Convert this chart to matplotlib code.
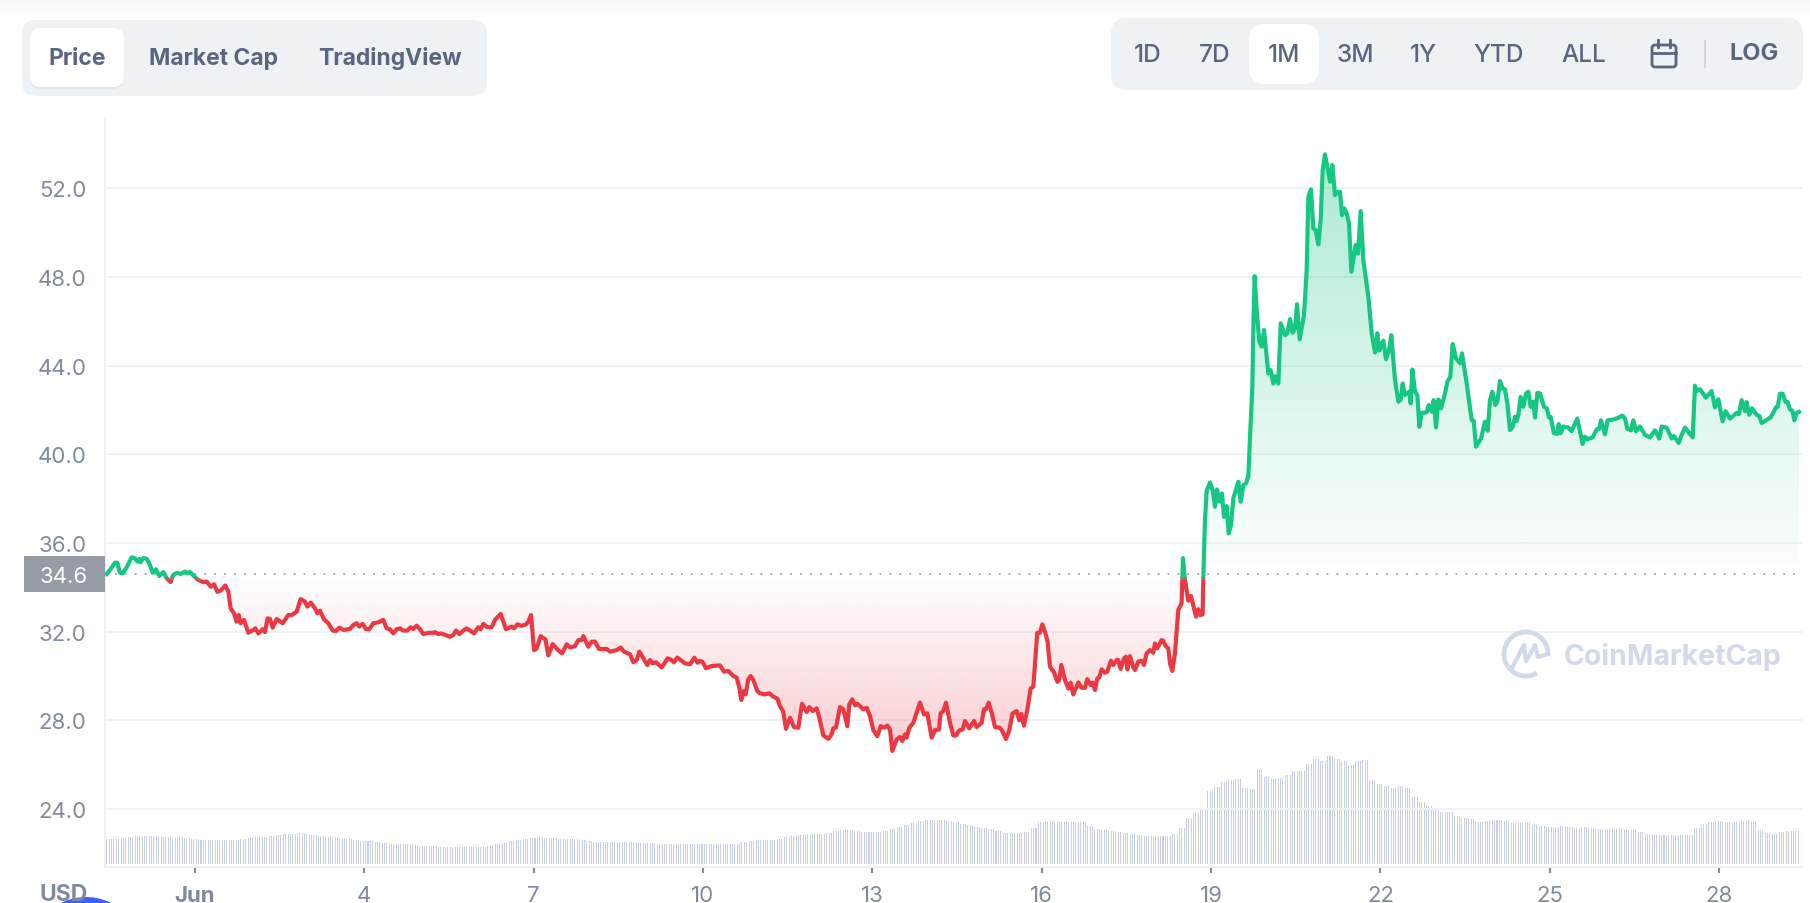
import numpy as np
import matplotlib
matplotlib.use("Agg")
import matplotlib.pyplot as plt
from matplotlib.patches import FancyBboxPatch, Rectangle, Circle, Arc

plt.rcParams['font.family'] = ['Inter', 'DejaVu Sans']

# price, x in days of June (Jun 1 = 1)
days = [
    -0.565,-0.506,-0.417,-0.376,-0.329,-0.281,-0.211,-0.122,-0.063,-0.022,0.014,0.037,0.085,0.144,0.191,0.250,0.309,0.368,0.439,0.498,
    0.569,0.616,0.687,0.746,0.823,0.864,0.911,0.982,1.041,1.148,1.207,1.278,1.337,1.396,1.455,1.537,1.591,1.632,1.691,1.738,
    1.774,1.809,1.868,1.945,2.033,2.069,2.122,2.199,2.240,2.287,2.329,2.376,2.447,2.553,2.653,2.712,2.801,2.872,2.949,2.990,
    3.049,3.126,3.167,3.214,3.285,3.362,3.439,3.498,3.557,3.628,3.746,3.805,3.864,3.911,3.970,4.029,4.088,4.159,4.248,4.336,
    4.395,4.454,4.514,4.573,
    4.632,4.691,4.762,4.821,4.868,4.927,4.974,5.045,5.134,5.223,5.252,5.311,5.352,5.429,5.518,5.577,5.624,5.683,5.754,5.813,
    5.872,5.943,6.020,6.061,6.108,6.179,6.256,6.315,6.415,6.510,6.610,6.652,6.711,6.787,6.864,6.905,6.953,7.006,7.053,7.124,
    7.207,7.260,7.336,7.419,7.502,7.585,7.644,7.732,7.791,7.850,7.880,7.968,8.027,8.086,8.157,8.293,8.352,8.470,8.541,8.600,
    8.706,8.766,8.825,8.872,8.943,9.013,9.061,9.108,9.167,9.268,9.374,9.445,9.486,9.545,9.604,9.681,9.770,9.846,9.905,
    9.946,9.993,10.052,10.153,10.300,10.371,10.448,10.537,10.596,10.643,10.678,10.714,10.755,10.802,10.844,10.891,10.962,11.009,11.097,11.174,
    11.245,11.316,11.363,11.422,11.469,11.540,11.611,11.688,11.753,11.836,11.883,11.942,12.013,12.060,12.131,12.219,12.278,12.308,12.355,12.426,
    12.485,12.556,12.591,12.645,12.692,12.733,12.839,12.899,12.958,13.017,13.087,13.147,13.206,13.265,13.312,13.353,13.430,13.489,13.530,13.578,
    13.607,13.654,13.725,13.784,13.843,13.914,13.973,14.050,14.109,14.180,14.209,14.257,14.304,14.375,14.434,14.481,14.540,14.599,14.640,14.717,
    14.800,14.847,14.936,14.977,15.013,15.060,15.113,15.172,
    15.260,15.307,15.366,15.425,15.484,15.555,15.602,15.638,15.685,15.744,15.803,15.851,15.921,15.969,16.010,16.057,16.104,16.146,16.217,16.276,
    16.311,16.347,16.411,16.471,16.512,16.559,16.648,16.707,16.766,16.807,16.866,16.902,16.943,16.984,17.020,17.061,17.120,17.161,17.226,17.268,
    17.327,17.356,17.398,17.457,17.492,17.516,17.563,17.622,17.652,17.711,17.770,17.811,17.858,17.917,17.976,18.006,18.047,18.124,18.153,18.195,
    18.242,18.272,18.313,18.360,18.419,18.478,18.502,18.537,18.596,18.644,18.732,18.773,18.803,18.850,
    18.863,18.892,18.922,18.981,19.028,19.069,19.105,19.146,19.193,19.229,19.276,19.312,19.353,19.394,19.483,19.524,19.571,19.619,19.660,19.690,
    19.731,19.749,19.772,19.808,19.855,19.896,19.938,20.014,20.056,20.103,20.138,20.191,20.233,20.309,20.351,20.398,20.445,20.487,20.522,20.569,
    20.646,20.693,20.723,20.770,20.811,20.853,20.900,20.941,20.977,21.018,21.059,21.107,21.148,21.195,21.242,21.284,21.319,21.361,21.402,21.443,
    21.485,21.561,21.603,21.650,21.697,21.786,21.845,21.904,21.945,21.981,22.052,22.099,22.152,22.193,22.258,22.317,22.359,22.394,22.435,22.512,
    22.536,22.565,22.613,22.654,22.689,22.731,22.819,22.855,22.908,22.943,22.985,23.026,23.073,23.144,23.185,23.238,23.280,23.339,23.410,23.445,
    23.528,23.616,23.652,23.693,23.782,23.852,23.900,23.941,23.982,24.036,24.071,24.118,24.165,24.207,24.248,24.295,24.343,24.384,24.414,24.443,
    24.484,24.531,24.579,24.620,24.661,24.709,24.738,24.780,24.827,24.898,24.945,24.986,
    25.015,25.074,25.133,25.157,25.192,25.239,25.328,25.387,25.487,25.582,25.623,25.665,25.759,25.830,25.877,25.907,25.978,26.025,26.113,26.214,
    26.285,26.332,26.373,26.438,26.480,26.527,26.598,26.686,26.775,26.863,26.940,26.981,27.070,27.159,27.200,27.283,27.336,27.395,27.531,27.572,
    27.601,27.661,27.767,27.867,27.926,27.985,28.062,28.115,28.192,28.310,28.351,28.399,28.458,28.487,28.534,28.582,28.664,28.712,28.753,28.913,
    29.007,29.037,29.078,29.125,29.178,29.214,29.255,29.296,29.332,29.373,29.414,
]
prices = [
    34.60,34.78,35.11,35.11,34.66,34.63,34.90,35.35,35.31,35.16,35.28,35.13,35.32,35.29,35.08,34.66,34.81,34.51,34.69,34.41,
    34.24,34.56,34.66,34.60,34.71,34.63,34.69,34.51,34.36,34.23,34.26,34.03,34.14,33.80,33.85,34.08,33.80,33.05,32.83,32.45,
    32.75,32.38,32.53,31.95,32.08,32.15,31.92,32.11,31.98,32.60,32.57,32.18,32.57,32.38,32.75,32.75,32.90,33.47,33.35,33.13,
    33.31,33.05,32.83,32.95,32.56,32.38,32.05,32.03,32.18,32.08,32.12,32.30,32.38,32.23,32.35,32.11,32.11,32.38,32.42,32.53,
    32.15,32.11,31.92,32.11,
    32.15,32.05,32.05,32.20,32.12,32.27,32.15,31.89,31.95,31.95,31.98,31.89,31.92,31.86,31.77,31.85,32.05,31.89,32.05,32.15,
    32.05,31.92,32.20,32.11,32.35,32.20,32.20,32.53,32.80,32.11,32.23,32.15,32.33,32.26,32.33,32.45,32.75,31.17,31.25,31.80,
    31.65,30.93,31.44,31.20,31.02,31.43,31.29,31.35,31.62,31.62,31.80,31.32,31.55,31.55,31.22,31.22,31.10,31.17,31.28,31.10,
    30.98,30.62,30.72,31.10,30.80,30.50,30.72,30.57,30.62,30.39,30.80,30.72,30.62,30.83,30.72,30.57,30.53,30.83,30.60,
    30.68,30.63,30.35,30.45,30.48,30.20,30.23,30.00,29.93,29.47,28.92,29.32,29.17,29.85,30.00,29.82,29.32,29.22,29.17,29.22,
    29.07,28.98,28.65,28.39,27.62,28.12,27.70,27.67,28.75,28.38,28.60,28.42,28.54,28.12,27.32,27.17,27.37,27.64,27.67,28.60,
    28.50,27.74,28.72,28.95,28.68,28.75,28.50,28.57,28.20,27.56,27.29,27.74,27.67,27.77,27.59,26.62,27.14,27.25,27.07,27.37,
    27.22,27.67,27.89,28.35,28.80,28.27,28.32,27.22,27.56,27.59,28.32,28.42,28.80,27.89,27.32,27.32,27.55,27.59,27.97,27.64,
    27.97,27.70,27.89,28.50,28.50,28.80,28.35,27.70,
    27.67,27.49,27.16,27.56,28.32,28.42,28.01,28.29,27.76,28.47,29.44,29.52,31.95,31.95,32.33,32.00,31.55,30.42,30.17,29.74,
    29.82,30.50,29.82,29.44,29.70,29.17,29.71,29.47,29.47,29.86,29.59,29.70,29.37,29.89,29.94,30.30,30.15,30.20,30.69,30.50,
    30.72,30.72,30.32,30.80,30.87,30.30,30.90,30.39,30.27,30.65,30.69,30.50,31.02,31.17,31.05,31.47,31.25,31.62,31.59,31.35,
    31.25,30.57,30.23,31.02,32.98,33.28,35.32,34.33,33.40,33.61,32.68,33.01,32.75,32.78,
    34.48,37.03,38.35,38.73,38.38,37.63,38.41,37.86,38.23,37.18,37.66,36.43,36.81,38.01,38.76,37.86,38.61,38.69,39.02,40.79,
    43.04,45.75,48.03,46.50,45.07,44.85,45.60,43.64,43.79,43.19,43.52,43.19,45.90,45.37,45.45,46.09,45.48,45.67,46.76,45.18,
    46.27,48.30,51.61,51.94,50.18,50.11,49.46,50.56,52.81,53.52,52.96,52.29,53.04,51.68,51.83,51.83,50.78,51.08,50.86,50.41,
    48.23,49.43,49.05,50.96,48.75,47.10,45.45,44.59,45.45,44.67,45.12,44.28,44.70,45.37,43.34,42.37,42.47,43.19,42.67,42.82,
    42.29,43.82,42.82,42.67,41.24,41.87,41.89,42.22,41.92,42.44,41.21,42.47,42.07,42.74,43.27,43.49,44.97,44.32,44.10,44.55,
    43.19,41.54,41.51,40.34,40.71,41.47,41.06,42.44,42.82,42.22,42.37,43.30,42.97,42.92,42.29,41.09,41.24,41.69,41.50,41.77,
    42.59,42.14,42.74,42.82,42.14,42.37,41.66,42.77,42.74,42.14,42.07,41.66,
    41.69,40.95,40.92,41.36,40.95,41.25,41.20,41.04,41.61,40.46,40.79,40.67,40.76,41.12,41.15,41.53,40.90,41.53,41.56,41.64,
    41.74,41.61,41.15,41.08,41.53,41.04,41.25,40.87,40.76,41.08,40.71,41.25,41.20,40.71,40.82,40.51,40.87,41.20,40.76,43.09,
    42.85,42.93,42.55,42.85,42.11,42.48,41.48,41.94,41.61,41.86,41.81,42.44,41.94,42.35,41.78,42.07,41.78,41.73,41.41,41.66,
    42.11,42.14,42.73,42.73,42.35,42.35,42.02,41.97,41.53,41.86,41.91,
]
base_price = 34.6

# relative volume, one level per 3 hours (each level covers 3 hourly bars)
volume_levels = [
    25,25,26,27,28,28,28,28, 27,27,27,26,25,24,24,24, 24,24,24,25,26,27,27,28, 29,30,30,31,30,29,28,27,
    27,26,25,24,23,23,22,21, 20,20,20,19,18,18,18,17, 17,17,17,17,17,17,18,20, 21,23,24,25,26,27,26,26,
    25,25,25,24,23,22,22,22, 22,22,22,21,21,21,20,20, 20,20,20,20,20,20,20,20, 20,20,22,23,24,24,24,25,
    27,28,29,30,30,30,31,33, 34,34,33,32,32,32,33,35, 37,39,41,43,44,44,44,43, 42,40,39,37,36,35,33,31,
    31,31,32,36,42,43,43,42, 42,42,42,38,35,34,33,32, 31,30,29,28,28,28,28,30, 36,46,51,55,73,77,82,84,
    85,76,75,95,87,85,86,89, 93,93,100,105,103,108,105,103, 99,103,104,84,80,78,76,78, 76,67,62,58,54,52,52,48,
    46,45,42,43,44,44,43,41, 41,42,39,38,37,37,38,37, 36,37,36,35,35,35,35,34, 34,32,30,29,29,29,29,29,
    29,36,40,42,43,42,42,43, 43,42,34,31,30,32,33,33,
]
first_bar_day = -0.56

y_ticks = [24, 28, 32, 36, 40, 44, 48, 52]
x_ticks = [1, 4, 7, 10, 13, 16, 19, 22, 25, 28]
x_labels = ['Jun', '4', '7', '10', '13', '16', '19', '22', '25', '28']

left_tabs = ['Price', 'Market Cap', 'TradingView']
range_tabs = ['1D', '7D', '1M', '3M', '1Y', 'YTD', 'ALL']

GREEN = '#16c784'
RED = '#ea3943'
GRID = '#eff2f5'
TICK = '#808a9d'
DARK = '#58667e'
W, H = 1810, 904

days = np.array(days)
prices = np.array(prices)
volume = np.repeat(volume_levels, 3)
bar_days = first_bar_day + np.arange(len(volume)) / 24

fig = plt.figure(figsize=(W / 100, H / 100), dpi=100, facecolor='white')
ax = fig.add_axes([105 / W, (H - 868) / H, (1802 - 105) / W, (868 - 119) / H])
vol_ax = ax.twinx()

# volume under everything
vol_ax.bar(bar_days, volume, width=0.018, color='#c6d0e2', linewidth=0)
vol_ax.set_ylim(-3, 746)
vol_ax.axis('off')
ax.set_zorder(vol_ax.get_zorder() + 1)
ax.patch.set_visible(False)

x0, x1 = -0.594, 29.468
y0, y1 = 21.39, 55.16

ax.set_axisbelow(True)
ax.grid(axis='y', color=GRID, lw=1.3)
for s in ['top', 'right']:
    ax.spines[s].set_visible(False)
for s in ['left', 'bottom']:
    ax.spines[s].set_color(GRID)
    ax.spines[s].set_linewidth(1.5)


def gradient_fill(low, high, upper, lower, rgb, alpha_low, alpha_high):
    # vertical gradient clipped to the area between the two curves
    n = 256
    img = np.zeros((n, 2, 4))
    img[:, :, :3] = matplotlib.colors.to_rgb(rgb)
    img[:, :, 3] = np.linspace(alpha_high, alpha_low, n)[:, None]
    im = ax.imshow(img, extent=[days[0], days[-1], low, high], aspect='auto', zorder=1.5)
    poly = ax.fill_between(days, lower, upper, facecolor='none', edgecolor='none')
    im.set_clip_path(poly.get_paths()[0], transform=ax.transData)


gradient_fill(base_price + 0.4, prices.max(), np.maximum(prices, base_price + 0.4), base_price + 0.4,
              GREEN, 0.015, 0.36)
gradient_fill(prices.min(), base_price, base_price, np.minimum(prices, base_price),
              RED, 0.25, 0.0)

# one curve, coloured by bands around the base price
bands = [(GREEN, 34.47, y1), ('#8f7d62', 34.33, 34.47), (RED, y0, 34.33)]
for color, low, high in bands:
    line, = ax.plot(days, prices, color=color, lw=3.0, solid_joinstyle='round', zorder=3)
    clip = Rectangle((x0, low), x1 - x0, high - low, transform=ax.transData)
    line.set_clip_path(clip)

ax.axhline(base_price, color='#8f96a3', lw=1.1, ls=(0, (1.2, 5.3)), zorder=2.5)

ax.set_xlim(x0, x1)
ax.set_ylim(y0, y1)
ax.set_yticks(y_ticks)
ax.set_yticklabels(['%.1f' % v for v in y_ticks])
ax.tick_params(axis='y', length=0, pad=13.5, labelsize=16, labelcolor=TICK)
ax.set_xticks(x_ticks)
ax.set_xticklabels(x_labels)
ax.tick_params(axis='x', length=4, width=1.5, color=TICK, pad=9, labelsize=16, labelcolor=TICK)
ax.get_xticklabels()[0].set_fontweight('bold')

# page chrome on a pixel overlay
ui = fig.add_axes([0, 0, 1, 1], zorder=10)
ui.set_xlim(0, W)
ui.set_ylim(H, 0)
ui.axis('off')


def rounded(x, y, w, h, r, color, **kw):
    ui.add_patch(FancyBboxPatch((x + r, y + r), w - 2 * r, h - 2 * r,
                                boxstyle='round,pad=%g,rounding_size=%g' % (r, r),
                                facecolor=color, edgecolor='none', **kw))


# faint shadow along the top edge
shade = np.ones((20, 2, 4))
shade[:, :, :3] = 0.93
shade[:, :, 3] = np.linspace(0.4, 0, 20)[:, None]
ui.imshow(shade, extent=[0, W, 20, 0], aspect='auto')
ui.set_xlim(0, W)
ui.set_ylim(H, 0)

rounded(22, 21, 465, 76, 14, GRID)
rounded(30, 30, 94, 60, 11, '#e3e7ee')
rounded(30, 29, 94, 59, 11, 'white')
for label, cx in zip(left_tabs, [77, 213, 390]):
    ui.text(cx, 59, label, color=DARK, fontsize=16.5, fontweight='bold', ha='center', va='center')

rounded(1111, 19, 692, 72, 16, GRID)
rounded(1249, 25, 70, 60, 16, 'white')
for label, cx in zip(range_tabs, [1148, 1215, 1284, 1355, 1423, 1499, 1584]):
    ui.text(cx, 55, label, color=DARK, fontsize=17.5, fontweight=500, ha='center', va='center')
ui.text(1754, 54, 'LOG', color=DARK, fontsize=17, fontweight='bold', ha='center', va='center')
ui.plot([1705, 1705], [42, 68], color='#cfd6e4', lw=1.5)

# calendar icon
ui.add_patch(FancyBboxPatch((1652, 46), 24, 22, boxstyle='round,pad=0,rounding_size=3',
                            facecolor='none', edgecolor=DARK, lw=2))
ui.plot([1652, 1676], [54, 54], color=DARK, lw=2)
ui.plot([1658, 1658], [41, 48], color=DARK, lw=2)
ui.plot([1670, 1670], [41, 48], color=DARK, lw=2)

# price tag on the axis
ui.add_patch(Rectangle((24, 557), 81, 36, facecolor='#969ca6', edgecolor='none'))
ui.text(64, 577, '34.6', color='white', fontsize=16, ha='center', va='center')

ui.text(64, 895, 'USD', color=TICK, fontsize=16.5, fontweight='bold', ha='center', va='center')
ui.add_patch(Circle((86, 953), 55, facecolor='#3861fb', edgecolor='none'))

# watermark
WM = '#d2d9e8'
ui.add_patch(Arc((1526, 655), 44, 44, theta1=60, theta2=365, edgecolor=WM, lw=3.4))
ui.plot([1512, 1524, 1526, 1535, 1538, 1548], [669, 646, 662, 646, 658, 655],
        color=WM, lw=3, solid_joinstyle='round', solid_capstyle='round')
ui.text(1673, 657, 'CoinMarketCap', color=WM, fontsize=20.5, fontweight='bold', ha='center', va='center')

fig.savefig('out.png', dpi=100)
